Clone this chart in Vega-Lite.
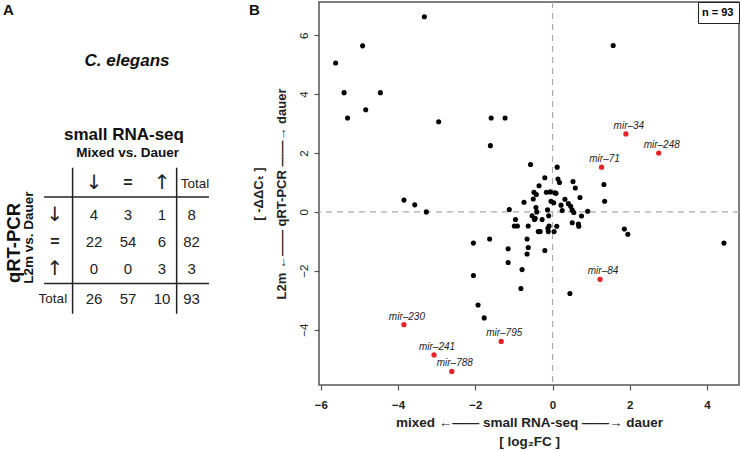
{
  "$schema": "https://vega.github.io/schema/vega-lite/v6.json",
  "padding": 0,
  "background": "white",
  "config": {"font": "Liberation Sans", "view": {"stroke": null}, "legend": {"labelFont": "Liberation Sans"}},
  "datasets": {
    "table": [
      {"u": -2.68, "v": -7.59, "t": "A", "role": "panel"},
      {"u": 4.56, "v": -7.59, "t": "B", "role": "panel"},
      {"u": 0.97, "v": -5.72, "t": "C. elegans", "role": "species"},
      {"u": 0.88, "v": -2.96, "t": "small RNA-seq", "role": "head1"},
      {"u": 0.99, "v": -2.30, "t": "Mixed vs. Dauer", "role": "head2"},
      {"u": -2.36, "v": 1.04, "t": "qRT-PCR", "role": "vhead1"},
      {"u": -1.91, "v": 0.84, "t": "L2m vs. Dauer", "role": "vhead2"},
      {"u": 0, "v": -1.2, "t": "↓︎", "role": "arrow"},
      {"u": 1, "v": -1.2, "t": "=", "role": "eq"},
      {"u": 2, "v": -1.2, "t": "↑︎", "role": "arrow"},
      {"u": 2.97, "v": -1.15, "t": "Total", "role": "total"},
      {"u": -1.15, "v": 0, "t": "↓︎", "role": "arrow"},
      {"u": -1.15, "v": 1, "t": "=", "role": "eq"},
      {"u": -1.15, "v": 2.01, "t": "↑︎", "role": "arrow"},
      {"u": -1.21, "v": 3.12, "t": "Total", "role": "total"},
      {"u": 0, "v": 0, "t": "4", "role": "count"},
      {"u": 1, "v": 0, "t": "3", "role": "count"},
      {"u": 2, "v": 0, "t": "1", "role": "count"},
      {"u": 2.87, "v": 0, "t": "8", "role": "count"},
      {"u": 0, "v": 1, "t": "22", "role": "count"},
      {"u": 1, "v": 1, "t": "54", "role": "count"},
      {"u": 2, "v": 1, "t": "6", "role": "count"},
      {"u": 2.87, "v": 1, "t": "82", "role": "count"},
      {"u": 0, "v": 2.01, "t": "0", "role": "count"},
      {"u": 1, "v": 2.01, "t": "0", "role": "count"},
      {"u": 2, "v": 2.01, "t": "3", "role": "count"},
      {"u": 2.87, "v": 2.01, "t": "3", "role": "count"},
      {"u": 0, "v": 3.12, "t": "26", "role": "count"},
      {"u": 1, "v": 3.12, "t": "57", "role": "count"},
      {"u": 2, "v": 3.12, "t": "10", "role": "count"},
      {"u": 2.87, "v": 3.12, "t": "93", "role": "count"}
    ],
    "lines": [
      {"u1": -1.47, "u2": 3.38, "v1": -0.667, "v2": -0.667},
      {"u1": -1.47, "u2": 3.38, "v1": 2.54, "v2": 2.54},
      {"u1": -0.63, "u2": -0.63, "v1": -1.75, "v2": 3.66},
      {"u1": 2.43, "u2": 2.43, "v1": -1.75, "v2": 3.66}
    ],
    "black": [
      {"x": -5.62, "y": 5.06}, {"x": -5.40, "y": 4.05}, {"x": -5.31, "y": 3.19}, {"x": -4.92, "y": 5.64},
      {"x": -4.84, "y": 3.47}, {"x": -4.46, "y": 4.05}, {"x": -3.32, "y": 6.63}, {"x": -2.95, "y": 3.06},
      {"x": -1.59, "y": 3.19}, {"x": -1.23, "y": 3.19}, {"x": -1.61, "y": 2.25}, {"x": -3.85, "y": 0.40},
      {"x": -3.57, "y": 0.24}, {"x": -3.27, "y": 0.00}, {"x": -2.05, "y": -1.06}, {"x": -1.63, "y": -0.92},
      {"x": 1.57, "y": 5.65}, {"x": -0.57, "y": 1.61}, {"x": 0.12, "y": 1.52}, {"x": -0.20, "y": 1.16},
      {"x": 0.14, "y": 1.12}, {"x": 0.18, "y": 1.00}, {"x": 0.53, "y": 1.03}, {"x": 0.59, "y": 0.81},
      {"x": -0.35, "y": 0.89}, {"x": 1.33, "y": 0.93}, {"x": 1.35, "y": 0.36}, {"x": -0.48, "y": 0.67},
      {"x": -0.42, "y": 0.59}, {"x": -0.16, "y": 0.67}, {"x": -0.06, "y": 0.68}, {"x": 0.09, "y": 0.63},
      {"x": 0.71, "y": 0.49}, {"x": 0.32, "y": 0.43}, {"x": -0.74, "y": 0.33}, {"x": -0.50, "y": 0.44},
      {"x": -0.04, "y": 0.36}, {"x": 0.03, "y": 0.31}, {"x": 0.22, "y": 0.23}, {"x": 0.41, "y": 0.28},
      {"x": 0.47, "y": 0.19}, {"x": 0.51, "y": 0.06}, {"x": 0.55, "y": -0.02}, {"x": 0.91, "y": 0.02},
      {"x": 0.75, "y": -0.14}, {"x": -0.43, "y": 0.15}, {"x": -0.41, "y": 0.00}, {"x": -0.13, "y": 0.07},
      {"x": -1.12, "y": 0.08}, {"x": -0.53, "y": -0.13}, {"x": -0.10, "y": -0.13}, {"x": -0.27, "y": -0.26},
      {"x": -0.47, "y": -0.26}, {"x": -0.96, "y": -0.26}, {"x": -0.99, "y": -0.48}, {"x": -0.91, "y": -0.48},
      {"x": -0.63, "y": -0.48}, {"x": -0.09, "y": -0.48}, {"x": 0.11, "y": -0.49}, {"x": 0.51, "y": -0.37},
      {"x": 0.67, "y": -0.41}, {"x": 0.68, "y": -0.49}, {"x": -0.37, "y": -0.67}, {"x": -0.32, "y": -0.67},
      {"x": -0.11, "y": -0.67}, {"x": 0.04, "y": -0.67}, {"x": 1.86, "y": -0.58}, {"x": 1.95, "y": -0.76},
      {"x": -0.66, "y": -0.92}, {"x": -1.15, "y": -1.25}, {"x": -0.63, "y": -1.21}, {"x": -0.66, "y": -1.43},
      {"x": -0.20, "y": -1.31}, {"x": 4.44, "y": -1.06}, {"x": -1.15, "y": -1.72}, {"x": -0.79, "y": -1.96},
      {"x": -2.05, "y": -2.16}, {"x": -0.82, "y": -2.60}, {"x": 0.45, "y": -2.77}, {"x": -1.93, "y": -3.16},
      {"x": -1.77, "y": -3.60}, {"x": -0.12, "y": -0.56}, {"x": 0.06, "y": 0.65}, {"x": -0.45, "y": -0.22},
      {"x": 0.25, "y": 0.05}
    ],
    "red": [
      {"x": 1.90, "y": 2.65, "name": "mir–34"},
      {"x": 2.75, "y": 2.00, "name": "mir–248"},
      {"x": 1.27, "y": 1.52, "name": "mir–71"},
      {"x": 1.23, "y": -2.29, "name": "mir–84"},
      {"x": -1.33, "y": -4.40, "name": "mir–795"},
      {"x": -3.85, "y": -3.83, "name": "mir–230"},
      {"x": -3.07, "y": -4.86, "name": "mir–241"},
      {"x": -2.61, "y": -5.42, "name": "mir–788"}
    ]
  },
  "spacing": 57,
  "bounds": "flush",
  "resolve": {"scale": {"color": "independent"}, "legend": {"color": "independent"}},
  "hconcat": [
    {
      "width": 262,
      "height": 383,
      "view": {"stroke": null},
      "encoding": {
        "x": {"field": "u", "type": "quantitative", "scale": {"domain": [-2.765, 4.94], "nice": false, "zero": false}, "axis": null},
        "y": {"field": "v", "type": "quantitative", "scale": {"domain": [-7.89, 6.30], "nice": false, "zero": false, "reverse": true}, "axis": null},
        "text": {"field": "t"}
      },
      "layer": [
        {
          "data": {"name": "lines"},
          "mark": {"type": "rule", "stroke": "#222", "strokeWidth": 1.5},
          "encoding": {
            "x": {"field": "u1", "type": "quantitative", "scale": {"domain": [-2.765, 4.94], "nice": false, "zero": false}, "axis": null},
            "x2": {"field": "u2"},
            "y": {"field": "v1", "type": "quantitative", "scale": {"domain": [-7.89, 6.30], "nice": false, "zero": false, "reverse": true}, "axis": null},
            "y2": {"field": "v2"},
            "text": null
          }
        },
        {
          "data": {"name": "table"},
          "transform": [{"filter": "datum.role === 'count'"}],
          "mark": {"type": "text", "fontSize": 15, "color": "#222", "align": "center", "baseline": "middle"}
        },
        {
          "data": {"name": "table"},
          "transform": [{"filter": "datum.role === 'total'"}],
          "mark": {"type": "text", "fontSize": 13.5, "color": "#222", "align": "center", "baseline": "middle"}
        },
        {
          "data": {"name": "table"},
          "transform": [{"filter": "datum.role === 'arrow'"}],
          "mark": {"type": "text", "font": "DejaVu Sans", "fontSize": 20, "color": "#222", "align": "center", "baseline": "middle"}
        },
        {
          "data": {"name": "table"},
          "transform": [{"filter": "datum.role === 'eq'"}],
          "mark": {"type": "text", "fontSize": 16, "fontWeight": "bold", "color": "#222", "align": "center", "baseline": "middle"}
        },
        {
          "data": {"name": "table"},
          "transform": [{"filter": "datum.role === 'panel'"}],
          "mark": {"type": "text", "fontSize": 15, "fontWeight": "bold", "color": "#111", "align": "left", "baseline": "middle"}
        },
        {
          "data": {"name": "table"},
          "transform": [{"filter": "datum.role === 'species'"}],
          "mark": {"type": "text", "fontSize": 17, "fontWeight": "bold", "fontStyle": "italic", "color": "#111", "align": "center", "baseline": "middle"}
        },
        {
          "data": {"name": "table"},
          "transform": [{"filter": "datum.role === 'head1'"}],
          "mark": {"type": "text", "fontSize": 17, "fontWeight": "bold", "color": "#111", "align": "center", "baseline": "middle"}
        },
        {
          "data": {"name": "table"},
          "transform": [{"filter": "datum.role === 'head2'"}],
          "mark": {"type": "text", "fontSize": 13.5, "fontWeight": "bold", "color": "#111", "align": "center", "baseline": "middle"}
        },
        {
          "data": {"name": "table"},
          "transform": [{"filter": "datum.role === 'vhead1'"}],
          "mark": {"type": "text", "fontSize": 18.5, "fontWeight": "bold", "color": "#111", "align": "center", "baseline": "middle", "angle": 270}
        },
        {
          "data": {"name": "table"},
          "transform": [{"filter": "datum.role === 'vhead2'"}],
          "mark": {"type": "text", "fontSize": 13.5, "fontWeight": "bold", "color": "#111", "align": "center", "baseline": "middle", "angle": 270}
        }
      ]
    },
    {
      "width": 420,
      "height": 383,
      "view": {"stroke": "#555", "strokeWidth": 1.5},
      "layer": [
        {
          "data": {"values": [{"v": 0}]},
          "mark": {"type": "rule", "stroke": "#aaaaaa", "strokeDash": [6, 5], "strokeWidth": 1.2},
          "encoding": {
            "x": {"field": "v", "type": "quantitative", "scale": {"domain": [-6.05, 4.83], "nice": false, "zero": false}}
          }
        },
        {
          "data": {"values": [{"v": 0}]},
          "mark": {"type": "rule", "stroke": "#aaaaaa", "strokeDash": [6, 5], "strokeWidth": 1.2},
          "encoding": {
            "y": {"field": "v", "type": "quantitative", "scale": {"domain": [-5.88, 7.13], "nice": false, "zero": false}}
          }
        },
        {
          "data": {"name": "black"},
          "mark": {"type": "circle", "size": 26, "opacity": 1},
          "encoding": {
            "x": {
              "field": "x", "type": "quantitative",
              "scale": {"domain": [-6.05, 4.83], "nice": false, "zero": false},
              "axis": {
                "values": [-6, -4, -2, 0, 2, 4], "domain": false, "grid": false,
                "tickSize": 5, "tickColor": "#555", "tickWidth": 1.2,
                "labelFontSize": 11.5, "labelFontWeight": "bold", "labelColor": "#222",
                "labelPadding": 9, "labelFlush": false, "labelOverlap": false,
                "title": ["mixed  ←︎——  small RNA-seq  ——→︎  dauer", "[ log₂FC ]"],
                "titleFont": "Liberation Sans, DejaVu Sans",
                "titleFontSize": 13.5, "titleFontWeight": "bold", "titleColor": "#222",
                "titlePadding": 5, "titleLineHeight": 19
              }
            },
            "y": {
              "field": "y", "type": "quantitative",
              "scale": {"domain": [-5.88, 7.13], "nice": false, "zero": false},
              "axis": {
                "values": [-4, -2, 0, 2, 4, 6], "domain": false, "grid": false,
                "tickSize": 5, "tickColor": "#555", "tickWidth": 1.2,
                "labelFontSize": 11.5, "labelColor": "#222",
                "labelAngle": 270, "labelAlign": "center", "labelBaseline": "bottom",
                "labelPadding": 5, "labelFlush": false, "labelOverlap": false,
                "title": ["[ -ΔΔCₜ ]", "L2m  ←︎——  qRT-PCR  ——→︎  dauer"],
                "titleFont": "Liberation Sans, DejaVu Sans",
                "titleFontSize": 13, "titleFontWeight": "bold", "titleColor": "#222",
                "titlePadding": 10, "titleLineHeight": 23
              }
            },
            "color": {
              "datum": "n = 93", "type": "nominal",
              "scale": {"range": ["#000000"]},
              "legend": {
                "title": null, "orient": "top-right", "offset": 0, "padding": 5,
                "strokeColor": "#222", "fillColor": "white",
                "symbolType": "square", "symbolSize": 1, "symbolOpacity": 0, "symbolStrokeWidth": 0,
                "labelOffset": -12, "labelFont": "Liberation Sans", "labelFontSize": 11, "labelFontWeight": "bold",
                "labelColor": "#000", "labelLimit": 0, "rowPadding": 0, "columnPadding": 0
              }
            }
          }
        },
        {
          "data": {"name": "red"},
          "mark": {"type": "circle", "size": 28, "opacity": 1, "color": "#e3242b"},
          "encoding": {
            "x": {"field": "x", "type": "quantitative", "scale": {"domain": [-6.05, 4.83], "nice": false, "zero": false}},
            "y": {"field": "y", "type": "quantitative", "scale": {"domain": [-5.88, 7.13], "nice": false, "zero": false}}
          }
        },
        {
          "data": {"name": "red"},
          "mark": {"type": "text", "fontSize": 10, "fontStyle": "italic", "color": "#222", "align": "center", "baseline": "alphabetic", "dx": 3, "dy": -5},
          "encoding": {
            "x": {"field": "x", "type": "quantitative", "scale": {"domain": [-6.05, 4.83], "nice": false, "zero": false}},
            "y": {"field": "y", "type": "quantitative", "scale": {"domain": [-5.88, 7.13], "nice": false, "zero": false}},
            "text": {"field": "name"}
          }
        }
      ]
    }
  ]
}
